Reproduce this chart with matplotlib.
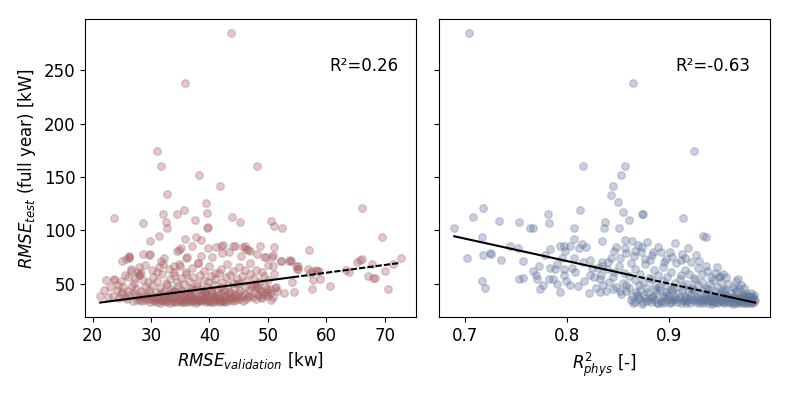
import numpy as np
import matplotlib.pyplot as plt

# RMSE_validation [kw] vs RMSE_test [kW] -- sparse / outlying models
left_outliers = [
    (43.7, 285), (35.8, 238), (31.1, 174), (31.7, 160.5), (48.1, 160.8), (38.2, 152), (41.8, 141.6),
    (32.8, 134), (39.4, 126), (66.2, 121), (23.7, 111.3), (28.6, 106.9), (32.0, 115.5), (34.5, 115),
    (35.7, 119.3), (32.6, 107.5), (32.8, 102), (39.5, 116.2), (37.6, 110), (39.5, 102.5), (39.8, 102.8),
    (43.8, 112.5), (45.2, 107.5), (50.5, 108.8), (51.0, 103.8), (52.4, 102), (69.6, 94), (29.9, 90.1),
    (31.4, 94.5), (35.8, 92), (37.7, 93.6), (38.5, 91.3), (37.0, 85.8), (35.2, 83.6), (34.4, 80.8),
    (34.8, 81.5), (39.8, 83.3), (41.9, 85.5), (42.3, 86.5), (43.4, 80.2), (44.4, 85.2), (46.1, 85.8),
    (46.6, 82), (48.7, 85.2), (51.0, 84.5), (57.0, 81.5), (46.9, 81.1), (28.6, 77.7), (29.8, 77.7),
    (26.3, 75.5), (36.1, 75.2), (38.6, 75.9), (40.4, 75.2), (42.1, 79), (45.4, 76.4), (48.1, 78.3),
    (49.4, 75), (50.8, 77.1), (66.2, 73.4), (72.8, 73.7), (53.8, 72.2), (65.7, 72.4), (65.3, 70.6),
    (67.9, 68.1), (71.4, 68.1), (70.0, 61.9), (67.1, 56.9), (68.0, 55), (68.4, 55.7), (70.6, 45.2),
    (63.4, 63.1), (63.9, 61), (57.2, 60.3), (58.3, 63.1), (58.7, 61.9), (57.7, 53.8), (58.9, 54.5),
    (60.7, 48), (57.6, 45.2), (55.1, 66.2), (55.2, 64.3), (53.9, 71.8), (52.3, 71.2), (54.2, 52),
    (52.7, 41.7), (54.4, 42.6), (51.4, 47), (50.6, 35.2), (21.3, 38.3), (22.6, 37.7), (22.0, 43.9),
    (22.9, 47), (23.7, 53.2), (24.3, 48.5), (25.7, 73.4), (26.3, 76.4), (25.5, 58), (26.5, 62),
    (27.2, 55), (25.1, 70.9), (26.2, 74.6), (23.7, 54.7), (22.3, 53.2), (28.0, 65.6), (28.3, 60),
    (28.0, 57.8), (29.7, 77.1), (31.4, 65.6), (33.9, 66.6), (34.8, 68.4), (32.3, 74), (31.7, 71.8),
    (36.0, 74.6), (38.0, 69), (41.2, 84.3), (44.1, 85.2), (45.7, 84.8), (46.3, 82.7), (49.6, 75.5),
    (50.7, 75), (50.9, 67.1), (52.2, 70.9), (53.7, 71.5), (54.8, 66.6), (55.0, 64.1), (56.9, 64.1),
    (57.6, 62.2), (58.4, 62.2),
]

# RMSE_validation vs RMSE_test -- dense cloud
left_cloud = [
    (24.5, 36.5), (25.8, 35.8), (26.9, 34.1), (27.6, 35.2), (28.4, 33.6), (29.1, 34.5), (29.8, 33.2),
    (30.4, 34.8), (31.0, 33.0), (31.6, 32.4), (32.1, 35.1), (32.7, 33.6), (33.2, 32.1), (33.8, 34.0),
    (34.3, 32.8), (34.9, 35.3), (35.4, 33.2), (36.0, 32.5), (36.6, 34.6), (37.1, 33.9), (37.7, 32.3),
    (38.3, 35.0), (38.8, 33.4), (39.4, 32.7), (40.0, 34.3), (40.6, 33.1), (41.2, 35.5), (41.8, 32.9),
    (42.4, 34.1), (43.0, 33.7), (43.7, 35.2), (44.5, 34.4), (45.3, 36.0), (46.2, 35.6), (47.5, 37.2),
    (30.9, 35.6), (31.8, 34.2), (32.5, 33.0), (33.5, 35.7), (34.6, 34.1), (35.2, 34.6), (35.9, 35.9),
    (36.4, 33.4), (37.4, 34.9), (38.0, 33.7), (38.6, 34.4), (39.1, 36.1), (39.8, 33.5), (40.4, 35.8),
    (41.0, 34.0), (41.6, 36.4), (42.2, 33.4), (42.9, 35.9), (30.1, 36.3), (28.8, 36.9),
    (23.4, 38.9), (24.8, 40.6), (25.5, 37.8), (26.3, 39.5), (27.0, 41.2), (27.9, 37.6), (28.6, 39.9),
    (29.3, 38.2), (29.9, 41.5), (30.6, 37.4), (31.3, 39.3), (31.9, 40.9), (32.4, 37.9), (33.0, 39.8),
    (33.6, 41.6), (34.1, 38.4), (34.7, 40.2), (35.3, 37.2), (35.8, 39.1), (36.3, 41.8), (36.9, 38.0),
    (37.5, 40.4), (38.1, 37.6), (38.6, 39.6), (39.2, 41.3), (39.7, 38.3), (40.3, 40.0), (40.9, 37.9),
    (41.4, 39.7), (42.0, 41.4), (42.6, 38.6), (43.2, 40.5), (43.8, 37.8), (44.3, 39.2), (44.9, 41.1),
    (45.5, 38.5), (46.1, 40.3), (46.8, 38.9), (47.6, 41.0), (48.3, 39.2), (49.2, 40.8), (50.1, 38.6),
    (48.9, 37.5), (27.4, 38.8), (25.0, 42.0),
    (24.1, 44.5), (25.2, 46.8), (26.0, 43.2), (26.8, 48.1), (27.5, 45.0), (28.2, 42.8), (28.9, 47.3),
    (29.6, 44.4), (30.2, 49.2), (30.8, 42.6), (31.5, 46.1), (32.2, 43.7), (32.8, 48.6), (33.4, 45.2),
    (34.0, 42.9), (34.6, 47.5), (35.1, 44.3), (35.7, 49.6), (36.2, 42.4), (36.8, 46.4), (37.4, 43.8),
    (37.9, 48.3), (38.5, 45.5), (39.1, 42.7), (39.6, 47.0), (40.2, 44.1), (40.8, 49.1), (41.3, 43.0),
    (41.9, 46.7), (42.5, 44.6), (43.1, 48.8), (43.6, 42.5), (44.2, 45.9), (44.7, 49.4), (45.3, 43.4),
    (46.0, 47.2), (46.7, 44.2), (47.4, 49.0), (48.1, 45.6), (48.8, 43.0), (49.5, 47.8), (50.3, 44.8),
    (51.2, 46.2), (49.9, 42.1), (47.8, 50.1),
    (24.9, 52.3), (26.1, 56.0), (27.1, 50.8), (27.9, 58.4), (28.7, 53.5), (29.5, 51.2), (30.3, 56.7),
    (31.0, 53.0), (31.8, 59.1), (32.5, 50.6), (33.2, 54.6), (33.9, 57.8), (34.5, 51.9), (35.2, 55.4),
    (35.9, 59.5), (36.5, 52.6), (37.2, 56.2), (37.8, 50.9), (38.4, 58.0), (39.0, 53.8), (39.7, 51.4),
    (40.3, 57.1), (41.0, 54.3), (41.6, 59.8), (42.2, 52.0), (42.9, 55.9), (43.5, 58.6), (44.1, 51.1),
    (44.8, 54.9), (45.5, 57.4), (46.2, 52.7), (46.9, 59.2), (47.7, 55.6), (48.5, 51.6), (49.3, 57.3),
    (50.1, 53.9), (51.0, 58.8), (45.0, 50.4),
    (26.6, 63.5), (27.8, 61.2), (29.0, 67.4), (30.1, 62.8), (31.1, 60.6), (32.0, 68.9), (33.0, 63.9),
    (34.0, 61.5), (35.0, 66.2), (36.0, 60.8), (37.0, 64.7), (38.0, 69.5), (39.0, 62.1), (40.0, 66.9),
    (41.0, 60.4), (42.0, 64.0), (43.0, 68.2), (44.0, 61.9), (45.0, 65.5), (46.0, 62.6), (47.0, 69.1),
    (48.0, 63.3), (49.0, 60.9), (50.0, 67.6),
    (31.2, 37.1), (32.3, 38.7), (33.3, 36.6), (34.4, 39.4), (35.5, 36.9), (36.5, 38.5), (37.6, 36.4),
    (38.7, 38.1), (39.7, 36.7), (40.8, 38.8), (41.8, 36.9), (42.8, 39.0), (33.9, 43.4), (35.4, 42.0),
    (37.0, 44.8), (38.9, 43.2), (40.5, 42.5), (42.3, 43.9), (43.9, 36.6), (44.8, 38.2),
    (48.0, 35.9), (49.0, 36.7), (49.6, 39.3), (50.4, 41.2), (48.6, 44.1), (49.8, 45.3), (50.9, 37.8),
    (47.3, 46.6), (51.5, 43.2), (48.2, 48.2),
    (30.5, 33.4), (31.4, 36.0), (32.2, 34.4), (33.0, 36.9), (33.7, 33.1), (34.5, 36.3), (35.1, 32.6),
    (35.7, 34.2), (36.2, 36.7), (36.9, 32.9), (37.4, 35.6), (38.1, 34.1), (38.9, 35.4), (39.6, 34.9),
    (40.2, 32.9), (40.9, 36.6), (41.5, 33.6), (42.1, 35.2), (42.7, 32.8), (43.4, 36.9), (44.1, 33.5),
    (44.8, 36.3), (45.8, 34.1), (46.6, 37.3), (29.4, 35.7), (28.1, 34.9), (32.9, 40.8), (36.6, 39.8),
    (39.4, 40.1), (43.5, 41.8),
]

# R2_phys [-] vs RMSE_test [kW] -- sparse / outlying models
right_outliers = [
    (0.7036, 285.4), (0.8646, 237.9), (0.924, 174.2), (0.8154, 160.6), (0.857, 160.6), (0.853, 151.6),
    (0.845, 141.6), (0.843, 133.6), (0.8493, 126.2), (0.8545, 116.9), (0.8603, 110), (0.8733, 115.6),
    (0.8738, 115.8), (0.913, 111.3), (0.9332, 94.5), (0.9358, 93.9), (0.8369, 107.5), (0.8363, 102),
    (0.8505, 102.5), (0.8343, 90.1), (0.857, 91.3), (0.848, 84.5), (0.846, 80.8), (0.8564, 83.9),
    (0.866, 80.7), (0.872, 79.4), (0.873, 84.6), (0.8655, 75.8), (0.8837, 80.2), (0.8922, 79.6),
    (0.9026, 75.2), (0.9124, 77.7), (0.915, 74.6), (0.9293, 71.5), (0.9358, 66.6), (0.9468, 65.3),
    (0.956, 56), (0.967, 54.1), (0.95, 57.2), (0.8427, 74.6), (0.840, 70.3), (0.8343, 67.1),
    (0.8317, 54.7), (0.835, 48.5), (0.8447, 45.4), (0.6893, 102), (0.7172, 121.1), (0.7075, 112.2),
    (0.7335, 108.8), (0.753, 107.5), (0.7634, 102.5), (0.766, 102.5), (0.7166, 93.9), (0.7016, 74.6),
    (0.7172, 77.1), (0.7244, 79), (0.7257, 78.3), (0.7354, 72.7), (0.7166, 52.2), (0.7192, 46.1),
    (0.7439, 85.8), (0.7517, 83.3), (0.7569, 71.5), (0.753, 54.7), (0.7563, 55.4), (0.7816, 115),
    (0.7823, 106.9), (0.8122, 119.3), (0.8063, 102), (0.807, 92), (0.7836, 82.7), (0.7927, 85.8),
    (0.7973, 85.2), (0.7979, 80.8), (0.8031, 85.8), (0.8148, 87.1), (0.818, 84.3),
    (0.7725, 66.6), (0.7693, 57.8), (0.7705, 54.7), (0.7764, 49.1), (0.7732, 45.4), (0.7836, 64.7),
    (0.7881, 64.1), (0.7856, 54.7), (0.7904, 49.8), (0.7927, 42.7), (0.8031, 49.1), (0.805, 64.7),
    (0.7966, 58.4), (0.811, 48.0), (0.8154, 70.3), (0.822, 72.1), (0.8246, 64.7), (0.8168, 52.9),
    (0.8213, 41.7), (0.8324, 42.3), (0.8115, 83.3), (0.8063, 74.6), (0.7946, 74.6), (0.7973, 63.5),
    (0.7822, 54.7), (0.7985, 52.2), (0.8265, 55.9), (0.8337, 70.3), (0.8304, 64.7),
]

# R2_phys vs RMSE_test -- dense cloud
right_cloud = [
    (0.862, 34.5), (0.866, 33.1), (0.870, 35.6), (0.874, 32.7), (0.878, 34.2), (0.882, 33.0), (0.886, 35.1),
    (0.889, 32.4), (0.892, 34.0), (0.896, 33.3), (0.899, 35.8), (0.902, 32.6), (0.905, 34.6), (0.908, 33.2),
    (0.911, 31.9), (0.914, 35.0), (0.917, 33.7), (0.920, 32.3), (0.923, 34.4), (0.926, 33.0), (0.929, 31.8),
    (0.932, 35.3), (0.935, 33.5), (0.938, 32.2), (0.941, 34.1), (0.944, 32.9), (0.947, 31.7), (0.950, 33.8),
    (0.953, 32.5), (0.956, 34.7), (0.959, 31.9), (0.962, 33.3), (0.965, 32.1), (0.968, 34.0), (0.970, 32.8),
    (0.972, 31.6), (0.974, 33.5), (0.976, 32.4), (0.977, 34.2), (0.958, 36.4),
    (0.853, 40.2), (0.858, 43.6), (0.863, 38.7), (0.867, 41.9), (0.871, 44.3), (0.875, 39.1), (0.879, 42.5),
    (0.883, 37.8), (0.887, 40.9), (0.891, 44.0), (0.894, 38.4), (0.897, 42.0), (0.900, 39.6), (0.903, 43.3),
    (0.906, 37.5), (0.909, 41.1), (0.912, 44.6), (0.915, 38.8), (0.918, 42.3), (0.921, 39.9), (0.924, 43.7),
    (0.927, 37.9), (0.930, 40.7), (0.933, 44.1), (0.936, 38.6), (0.939, 41.8), (0.942, 39.2), (0.945, 43.0),
    (0.948, 37.4), (0.951, 40.5), (0.954, 42.8), (0.957, 38.2), (0.960, 41.4), (0.963, 39.0), (0.966, 43.5),
    (0.969, 37.7), (0.971, 40.1), (0.973, 38.5), (0.975, 41.0), (0.977, 37.2), (0.961, 36.9), (0.944, 36.8),
    (0.929, 37.0), (0.915, 36.5), (0.972, 36.1),
    (0.841, 52.1), (0.848, 47.3), (0.855, 50.4), (0.861, 46.0), (0.866, 53.8), (0.870, 48.6), (0.874, 51.5),
    (0.878, 45.6), (0.882, 54.2), (0.886, 49.0), (0.890, 46.7), (0.894, 52.6), (0.898, 48.1), (0.902, 45.3),
    (0.906, 51.0), (0.910, 54.6), (0.913, 47.6), (0.917, 50.2), (0.921, 45.9), (0.925, 53.1), (0.928, 48.4),
    (0.932, 51.7), (0.936, 46.2), (0.940, 49.5), (0.943, 54.0), (0.947, 47.0), (0.951, 51.3), (0.955, 45.5),
    (0.958, 49.8), (0.962, 47.4), (0.965, 52.2), (0.968, 45.8), (0.970, 48.9), (0.973, 46.4), (0.964, 44.9),
    (0.952, 44.6), (0.938, 45.1), (0.923, 44.8), (0.905, 46.3), (0.887, 45.2),
    (0.833, 58.4), (0.839, 63.6), (0.845, 56.2), (0.851, 66.9), (0.856, 60.1), (0.861, 57.3), (0.866, 64.2),
    (0.871, 59.0), (0.876, 68.5), (0.880, 55.8), (0.885, 62.7), (0.889, 58.2), (0.894, 66.0), (0.898, 56.6),
    (0.902, 61.4), (0.907, 69.1), (0.911, 57.9), (0.915, 63.3), (0.919, 59.6), (0.924, 55.4), (0.928, 64.8),
    (0.932, 58.8), (0.937, 61.9), (0.941, 56.5), (0.945, 60.3), (0.949, 55.9), (0.953, 58.9), (0.895, 70.2),
    (0.881, 72.6), (0.862, 69.8),
    (0.852, 74.1), (0.858, 78.7), (0.869, 86.5), (0.876, 73.4), (0.883, 76.9), (0.889, 84.0), (0.897, 72.8),
    (0.901, 80.1), (0.906, 88.2), (0.911, 71.9), (0.918, 83.5), (0.921, 70.6), (0.926, 77.3), (0.878, 88.9),
    (0.863, 90.5),
    (0.931, 33.9), (0.934, 36.2), (0.937, 34.6), (0.940, 38.0), (0.943, 33.1), (0.946, 35.4), (0.949, 39.3),
    (0.952, 34.3), (0.955, 37.1), (0.957, 33.0), (0.960, 35.6), (0.963, 37.8), (0.966, 34.9), (0.967, 36.6),
    (0.969, 33.4), (0.971, 35.2), (0.973, 36.8), (0.975, 34.8), (0.976, 36.3), (0.978, 33.0),
    (0.864, 31.9), (0.869, 37.4), (0.873, 31.5), (0.881, 36.1), (0.888, 31.6), (0.895, 36.7), (0.901, 31.7),
    (0.907, 35.9), (0.913, 33.6), (0.919, 36.2),
    (0.828, 45.9), (0.822, 58.6), (0.838, 43.1), (0.846, 61.2), (0.852, 43.7), (0.858, 48.8), (0.808, 60.6),
    (0.790, 68.5), (0.778, 76.9), (0.766, 62.3),
    (0.979, 33.6), (0.980, 35.9), (0.981, 32.3), (0.982, 34.4), (0.983, 33.1), (0.984, 35.0), (0.979, 38.7),
    (0.981, 37.2), (0.983, 39.4), (0.980, 41.6),
    (0.903, 34.9), (0.910, 37.8), (0.916, 32.4), (0.922, 36.0), (0.927, 34.7), (0.933, 31.9), (0.936, 37.4),
    (0.939, 35.1), (0.942, 31.4), (0.945, 38.6), (0.948, 33.3), (0.951, 36.0), (0.954, 31.6), (0.956, 39.8),
    (0.959, 34.0), (0.962, 31.4), (0.964, 36.1), (0.967, 31.9), (0.970, 35.5), (0.972, 39.1), (0.974, 31.8),
    (0.976, 38.4), (0.978, 35.7), (0.980, 31.8), (0.982, 37.4), (0.884, 38.9), (0.893, 31.7), (0.898, 39.9),
    (0.876, 36.9), (0.868, 39.8),
]

# fitted regression lines (end points) and R2 of the fits
fit_left_x = [21.3, 54.3, 72.7]
fit_left_y = [32.4, 56.2, 69.6]
fit_right_x = [0.6893, 0.862, 0.955, 0.984]
fit_right_y = [94.5, 58.2, 38.4, 32.4]
r2_texts = ['R²=0.26', 'R²=-0.63']

left = np.array(left_outliers + left_cloud)
right = np.array(right_outliers + right_cloud)

plt.rcParams['font.size'] = 12

fig, (ax1, ax2) = plt.subplots(1, 2, sharey=True, figsize=(7.89, 3.95), dpi=100)
fig.subplots_adjust(left=0.108, right=0.976, bottom=0.197, top=0.952, wspace=0.07)

ax1.scatter(left[:, 0], left[:, 1], s=30, c='#c44e52', alpha=0.33,
            edgecolors='grey', linewidths=1)
ax1.plot(fit_left_x[:2], fit_left_y[:2], 'k-', lw=1.5)
ax1.plot(fit_left_x[1:], fit_left_y[1:], color='k', lw=1.5, dashes=(3, 1))
ax1.text(0.946, 0.826, r2_texts[0], transform=ax1.transAxes, ha='right', fontsize=12)
ax1.set_xlabel('$RMSE_{validation}$ [kw]')
ax1.set_ylabel('$RMSE_{test}$ (full year) [kW]')

ax2.scatter(right[:, 0], right[:, 1], s=30, c='#4c72b0', alpha=0.33,
            edgecolors='grey', linewidths=1)
ax2.plot(fit_right_x[:2], fit_right_y[:2], 'k-', lw=1.5)
ax2.plot(fit_right_x[1:3], fit_right_y[1:3], color='k', lw=1.5, dashes=(3, 1))
ax2.plot(fit_right_x[2:], fit_right_y[2:], 'k-', lw=1.5)
ax2.text(0.94, 0.826, r2_texts[1], transform=ax2.transAxes, ha='right', fontsize=12)
ax2.set_xlabel('$R^2_{phys}$ [-]')

ax1.set_xticks([20, 30, 40, 50, 60, 70])
ax1.set_yticks([50, 100, 150, 200, 250])
ax2.set_xticks([0.7, 0.8, 0.9])

plt.savefig('out.png', dpi=100)
